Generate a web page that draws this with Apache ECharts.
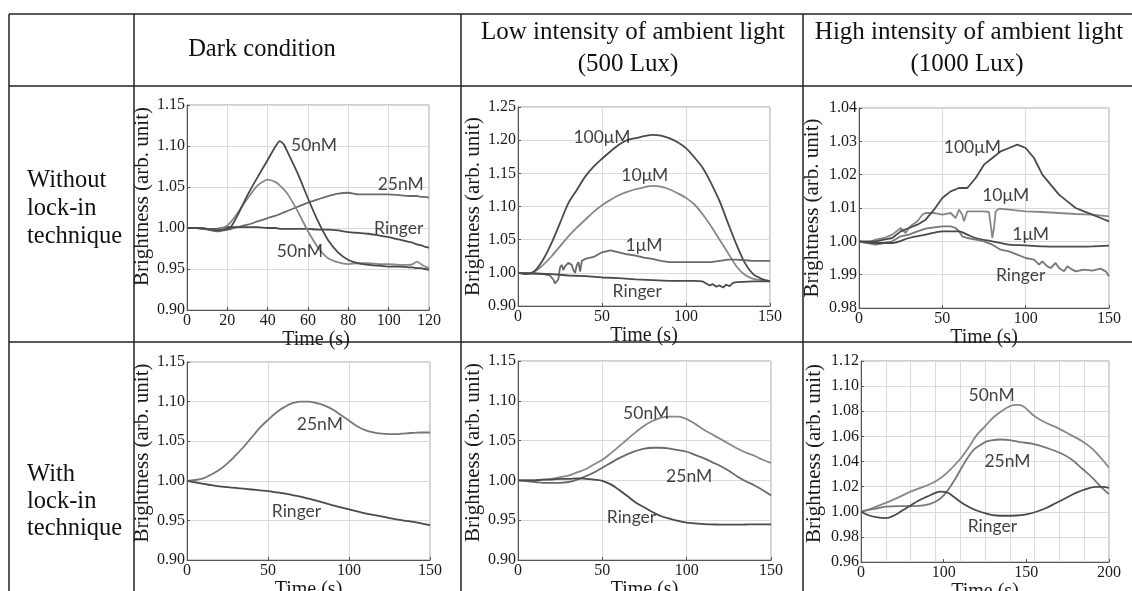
<!DOCTYPE html>
<html><head><meta charset="utf-8">
<script src="https://cdn.jsdelivr.net/npm/echarts@6/dist/echarts.min.js"></script>
<style>html,body{margin:0;padding:0;background:#fff}#c{width:1132px;height:591px}</style>
</head><body><div id="c"></div><script>
// ---------- DATA ----------
// Panel 1: dark condition, without lock-in
const p1Time = [0,5,10,15,20,22,25,30,35,40,44,46,48,50,55,60,65,70,75,80,85,90,95,100,105,110,112,114,116,118,120];
const p1Dark50 = [1.000,1.000,0.999,0.997,0.999,1.002,1.015,1.040,1.062,1.083,1.100,1.106,1.102,1.092,1.066,1.036,1.008,0.985,0.970,0.961,0.957,0.955,0.954,0.953,0.953,0.952,0.952,0.951,0.951,0.950,0.949];
const p1Light50 = [1.000,1.000,0.999,0.998,1.003,1.008,1.018,1.036,1.052,1.059,1.056,1.052,1.047,1.041,1.020,0.996,0.976,0.963,0.958,0.956,0.957,0.957,0.956,0.956,0.955,0.955,0.956,0.959,0.956,0.953,0.951];
const p1N25 = [1.000,1.000,0.998,0.996,0.998,0.999,1.001,1.004,1.008,1.012,1.015,1.017,1.019,1.021,1.026,1.031,1.035,1.039,1.042,1.043,1.041,1.041,1.041,1.041,1.040,1.039,1.039,1.039,1.038,1.038,1.037];
const p1Ringer = [1.000,1.000,0.999,0.999,1.001,1.001,1.001,1.001,1.001,1.000,1.000,0.999,0.999,0.999,0.999,0.999,0.998,0.998,0.997,0.995,0.994,0.993,0.991,0.989,0.986,0.983,0.982,0.980,0.979,0.977,0.976];
const p1LabelText = ['50nM','25nM','Ringer','50nM'];
const p1LabelX = [63,106,105,56];
const p1LabelY = [1.101,1.053,1.000,0.971];
const p1XTicks = [0,120,20];
const p1YTicks = [0.90,1.15,0.05];

// Panel 2: 500 Lux, without lock-in
const p2Time = [0,5,10,15,20,25,30,35,40,45,50,55,60,65,70,75,80,85,90,95,100,105,110,115,120,125,130,135,140,145,150];
const p2U100 = [1.000,0.998,1.003,1.020,1.045,1.075,1.105,1.125,1.145,1.160,1.172,1.183,1.193,1.200,1.203,1.206,1.208,1.207,1.203,1.197,1.188,1.174,1.158,1.135,1.108,1.075,1.043,1.015,0.998,0.991,0.987];
const p2U10 = [1.000,0.999,1.002,1.012,1.025,1.040,1.055,1.068,1.080,1.092,1.102,1.110,1.117,1.122,1.126,1.129,1.131,1.130,1.126,1.120,1.113,1.103,1.088,1.070,1.050,1.030,1.010,0.997,0.991,0.989,0.988];
const p2Time1 = [0,5,10,15,19,21,22,23,24,25,26,27,28,29,30,31,32,33,34,35,36,37,38,40,45,50,55,60,65,70,75,80,85,90,95,100,105,110,115,120,125,130,135,140,145,150];
const p2U1 = [1.000,0.999,0.999,0.998,0.996,0.990,0.984,0.982,0.990,1.008,1.012,1.004,1.010,1.013,1.015,1.016,1.012,1.004,1.000,1.012,1.016,1.002,1.018,1.021,1.024,1.031,1.034,1.031,1.028,1.026,1.023,1.021,1.018,1.016,1.016,1.016,1.016,1.016,1.016,1.018,1.020,1.020,1.019,1.018,1.018,1.018];
const p2TimeR = [0,10,20,30,40,50,60,70,80,90,100,105,110,112,114,116,118,120,122,124,126,128,130,140,150];
const p2Ringer = [1.000,0.999,0.998,0.996,0.995,0.993,0.992,0.990,0.989,0.988,0.988,0.988,0.987,0.984,0.981,0.983,0.979,0.981,0.978,0.982,0.980,0.985,0.986,0.987,0.987];
const p2LabelText = ['100\u03bcM','10\u03bcM','1\u03bcM','Ringer'];
const p2LabelX = [50,75.5,75,71];
const p2LabelY = [1.204,1.147,1.042,0.972];
const p2XTicks = [0,150,50];
const p2YTicks = [0.95,1.25,0.05];
const p2YLabels = ['0.90','1.00','1.05','1.10','1.15','1.20','1.25'];

// Panel 3: 1000 Lux, without lock-in
const p3Time = [0,5,10,15,20,25,30,35,40,45,50,55,60,65,70,75,80,85,90,95,100,105,110,115,120,125,130,135,140,145,150];
const p3U100 = [1.000,1.000,1.000,1.0005,1.001,1.003,1.004,1.005,1.0065,1.0095,1.013,1.015,1.016,1.016,1.019,1.023,1.025,1.027,1.028,1.029,1.028,1.025,1.020,1.017,1.014,1.012,1.010,1.009,1.008,1.007,1.006];
const p3Time10 = [0,5,10,15,20,25,28,30,32,35,38,40,45,50,55,58,60,62,63,65,70,75,78,79,80,81,82,84,90,100,110,120,130,140,150];
const p3U10 = [1.000,0.9995,1.0005,1.001,1.002,1.004,1.0025,1.004,1.005,1.006,1.008,1.0085,1.0085,1.008,1.0085,1.007,1.0095,1.008,1.006,1.009,1.009,1.009,1.0088,1.005,1.001,1.004,1.009,1.0098,1.0095,1.009,1.0088,1.0085,1.0082,1.008,1.0075];
const p3Time1 = [0,10,20,30,40,50,60,65,70,80,90,100,110,120,130,140,150];
const p3U1 = [1.000,0.9995,0.9995,1.001,1.002,1.003,1.003,1.002,1.001,1.000,0.999,0.9988,0.9985,0.9984,0.9984,0.9985,0.9987];
const p3TimeR = [0,5,10,15,20,25,30,35,40,45,50,55,58,60,62,65,70,75,80,85,90,95,100,105,108,110,113,115,118,120,123,125,128,130,135,140,145,148,150];
const p3Ringer = [1.000,0.9995,0.999,0.9995,1.000,1.0015,1.002,1.003,1.0038,1.0042,1.0045,1.0045,1.004,1.003,1.0015,1.001,1.0005,1.000,0.999,0.9975,0.997,0.996,0.995,0.9945,0.993,0.994,0.9925,0.992,0.9935,0.992,0.991,0.9925,0.9915,0.991,0.9915,0.9912,0.9918,0.991,0.9895];
const p3LabelText = ['100\u03bcM','10\u03bcM','1\u03bcM','Ringer'];
const p3LabelX = [68,88,103,97];
const p3LabelY = [1.0282,1.0139,1.002,0.9898];
const p3XTicks = [0,150,50];
const p3YTicks = [0.98,1.04,0.01];
const p3YLabels = ['0.98','1.99','1.00','1.01','1.02','1.03','1.04'];

// Panel 4: dark condition, with lock-in
const p4Time = [0,5,10,15,20,25,30,35,40,45,50,55,60,65,70,75,80,85,90,95,100,105,110,115,120,125,130,135,140,145,150];
const p4N25 = [1.000,1.001,1.003,1.008,1.014,1.022,1.032,1.043,1.055,1.067,1.077,1.086,1.093,1.098,1.100,1.100,1.098,1.095,1.090,1.083,1.076,1.069,1.064,1.061,1.0595,1.059,1.059,1.060,1.0605,1.061,1.061];
const p4Ringer = [1.000,0.998,0.996,0.9945,0.993,0.992,0.991,0.990,0.989,0.988,0.987,0.9855,0.984,0.982,0.980,0.9775,0.975,0.972,0.969,0.9665,0.964,0.9615,0.959,0.957,0.955,0.953,0.951,0.9495,0.948,0.946,0.944];
const p4LabelText = ['25nM','Ringer'];
const p4LabelX = [82,67.6];
const p4LabelY = [1.071,0.962];
const p4XTicks = [0,150,50];
const p4YTicks = [0.90,1.15,0.05];

// Panel 5: 500 Lux, with lock-in
const p5Time = [0,5,10,15,20,25,30,35,40,45,50,55,60,65,70,75,80,85,90,95,100,105,110,115,120,125,130,135,140,145,150];
const p5N50 = [1.000,1.000,1.000,1.001,1.002,1.004,1.006,1.010,1.014,1.020,1.026,1.034,1.043,1.052,1.061,1.069,1.075,1.079,1.080,1.080,1.077,1.071,1.064,1.058,1.052,1.046,1.040,1.035,1.031,1.026,1.022];
const p5N25 = [1.000,0.999,0.998,0.997,0.997,0.997,0.998,1.001,1.005,1.010,1.016,1.022,1.028,1.033,1.037,1.040,1.041,1.041,1.040,1.038,1.036,1.032,1.028,1.023,1.018,1.012,1.005,0.999,0.994,0.988,0.981];
const p5Ringer = [1.000,1.000,1.000,1.001,1.001,1.002,1.002,1.0025,1.002,1.001,0.9995,0.995,0.988,0.980,0.972,0.966,0.960,0.955,0.952,0.949,0.947,0.946,0.945,0.9447,0.9445,0.9445,0.9445,0.9446,0.9447,0.9447,0.9447];
const p5LabelText = ['50nM','25nM','Ringer'];
const p5LabelX = [76,101.5,67.3];
const p5LabelY = [1.084,1.0054,0.954];
const p5XTicks = [0,150,50];
const p5YTicks = [0.90,1.15,0.05];

// Panel 6: 1000 Lux, with lock-in
const p6Time50 = [50,57,65,72,80,88,95,102,110,115,120,125,130,135,140,144,148,154,160,170,177,184,190,195,200];
const p6N50 = [1.000,1.003,1.007,1.011,1.016,1.020,1.024,1.031,1.042,1.051,1.061,1.068,1.075,1.080,1.084,1.085,1.084,1.077,1.072,1.066,1.061,1.056,1.050,1.043,1.035];
const p6Time25 = [50,57,65,72,80,88,95,100,106,110,114,118,122,126,130,134,140,146,154,162,170,177,184,190,195,200];
const p6N25 = [1.000,1.002,1.004,1.0045,1.0045,1.005,1.008,1.013,1.024,1.033,1.042,1.049,1.053,1.056,1.057,1.0575,1.057,1.0555,1.054,1.051,1.047,1.042,1.034,1.027,1.020,1.014];
const p6TimeR = [50,55,60,65,70,75,80,85,90,95,98,102,106,110,115,120,126,132,138,144,150,156,162,168,174,180,186,192,196,200];
const p6Ringer = [1.000,0.997,0.9955,0.995,0.997,1.001,1.005,1.009,1.012,1.015,1.016,1.0155,1.012,1.008,1.004,1.001,0.9985,0.997,0.9968,0.997,0.998,1.000,1.003,1.007,1.011,1.015,1.018,1.0198,1.0198,1.019];
const p6LabelText = ['50nM','25nM','Ringer'];
const p6LabelX = [129,138.6,129.5];
const p6LabelY = [1.093,1.040,0.988];
const p6XTicks = [50,200,50];
const p6XLabels = ['0','100','150','200'];
const p6XGrid = [0,150,15];
const p6YTicks = [0.96,1.12,0.02];

// Table texts
const columnHeaders = [['Dark condition'], ['Low intensity of ambient light','(500 Lux)'], ['High intensity of ambient light','(1000 Lux)']];
const rowHeaders = [['Without','lock-in','technique'], ['With','lock-in','technique']];
const yName = 'Brightness (arb. unit)';
const xName = 'Time (s)';

// ---------- STYLE / LAYOUT ----------
const SERIF = '"Liberation Serif", "Times New Roman", serif';
const SANS = 'Lato, "Open Sans", "DejaVu Sans", sans-serif';
const DARK = '#4a4a4a', MID = '#6a6a6a', LIGHT = '#888888';

const grids = [
  {left:187, top:105, width:242, height:205},
  {left:518, top:107, width:252, height:199},
  {left:859, top:108, width:250, height:200},
  {left:187, top:362, width:243, height:198},
  {left:518, top:361, width:253, height:199},
  {left:861, top:361, width:248, height:201}
].map(g => Object.assign({show:true, borderColor:'#a0a0a0', borderWidth:1, backgroundColor:'#fff', containLabel:false, outerBoundsMode:'none'}, g));

function makeX(gi, ticks, nameGap, labels, showSplit, namePad) {
  const [min, max, interval] = ticks;
  return {
    type:'value', gridIndex:gi, min, max, interval, position:'bottom',
    name:xName, nameLocation:'middle', nameGap,
    nameTextStyle:{fontFamily:SERIF, fontSize:20, color:'#1a1a1a', padding: namePad || 0},
    axisLine:{show:true, onZero:false, lineStyle:{color:'#555', width:1}},
    axisTick:{show:true, inside:true, length:3, lineStyle:{color:'#555'}},
    axisLabel:{fontFamily:SERIF, fontSize:16, color:'#1a1a1a', margin:3, showMinLabel:true, showMaxLabel:true,
      formatter: labels ? (v => labels[Math.round((v - min) / interval)] || '') : (v => String(Math.round(v)))},
    splitLine:{show: showSplit !== false, lineStyle:{color:'#dadada', width:1}}
  };
}
function makeY(gi, ticks, nameGap, labels, namePad) {
  const [min, max, interval] = ticks;
  return {
    type:'value', gridIndex:gi, min, max, interval,
    name:yName, nameLocation:'middle', nameGap, nameRotate:90,
    nameTextStyle:{fontFamily:SERIF, fontSize:21, color:'#1a1a1a', padding: namePad || 0},
    axisLine:{show:true, onZero:false, lineStyle:{color:'#555', width:1}},
    axisTick:{show:true, inside:true, length:3, lineStyle:{color:'#555'}},
    axisLabel:{fontFamily:SERIF, fontSize:16, color:'#1a1a1a', margin:2, showMinLabel:true, showMaxLabel:true,
      formatter: labels ? (v => labels[Math.round((v - min) / interval)] || '') : (v => v.toFixed(2))},
    splitLine:{show:true, lineStyle:{color:'#dadada', width:1}}
  };
}

const xAxes = [
  makeX(0, p1XTicks, 12, null, true, [0,0,0,16]),
  makeX(1, p2XTicks, 9),
  makeX(2, p3XTicks, 11),
  makeX(3, p4XTicks, 15),
  makeX(4, p5XTicks, 15),
  makeX(5, p6XTicks, 12, p6XLabels, false),
  {type:'value', gridIndex:5, min:p6XGrid[0], max:p6XGrid[1], interval:p6XGrid[2], position:'top',
   axisLine:{show:false}, axisTick:{show:false}, axisLabel:{show:false},
   splitLine:{show:true, lineStyle:{color:'#dadada', width:1}}}
];
const yAxes = [
  makeY(0, p1YTicks, 31, null, [0,0,0,22]),
  makeY(1, p2YTicks, 33, p2YLabels),
  makeY(2, p3YTicks, 36, p3YLabels),
  makeY(3, p4YTicks, 31, null, [0,0,0,16]),
  makeY(4, p5YTicks, 33, null, [0,0,0,16]),
  makeY(5, p6YTicks, 36, null, [0,0,0,16])
];

const series = [];
function addLine(p, t, v, color, smooth) {
  series.push({type:'line', xAxisIndex:p, yAxisIndex:p, data:t.map((x,i)=>[x, v[i]]),
    symbol:'none', showSymbol:false, smooth:smooth, lineStyle:{color:color, width:1.8},
    silent:true, animation:false, z:3});
}
function addLabels(p, texts, xs, ys) {
  series.push({type:'scatter', xAxisIndex:p, yAxisIndex:p,
    data:texts.map((s,i)=>({name:s, value:[xs[i], ys[i]]})),
    symbolSize:1, itemStyle:{color:'rgba(0,0,0,0)'},
    label:{show:true, position:'inside', formatter:'{b}', fontFamily:SANS, fontSize:17.5, color:'#111'},
    silent:true, animation:false, z:5});
}

addLine(0, p1Time, p1N25, MID, 0.2);
addLine(0, p1Time, p1Ringer, DARK, 0.2);
addLine(0, p1Time, p1Light50, LIGHT, 0.2);
addLine(0, p1Time, p1Dark50, DARK, 0.2);
addLabels(0, p1LabelText, p1LabelX, p1LabelY);

addLine(1, p2Time, p2U10, LIGHT, 0.3);
addLine(1, p2Time, p2U100, DARK, 0.3);
addLine(1, p2Time1, p2U1, MID, false);
addLine(1, p2TimeR, p2Ringer, DARK, false);
addLabels(1, p2LabelText, p2LabelX, p2LabelY);

addLine(2, p3TimeR, p3Ringer, '#777', false);
addLine(2, p3Time10, p3U10, LIGHT, false);
addLine(2, p3Time1, p3U1, DARK, 0.3);
addLine(2, p3Time, p3U100, DARK, false);
addLabels(2, p3LabelText, p3LabelX, p3LabelY);

addLine(3, p4Time, p4N25, '#777', 0.4);
addLine(3, p4Time, p4Ringer, DARK, 0.4);
addLabels(3, p4LabelText, p4LabelX, p4LabelY);

addLine(4, p5Time, p5N50, LIGHT, 0.4);
addLine(4, p5Time, p5N25, MID, 0.4);
addLine(4, p5Time, p5Ringer, DARK, 0.4);
addLabels(4, p5LabelText, p5LabelX, p5LabelY);

addLine(5, p6Time50, p6N50, LIGHT, 0.4);
addLine(5, p6Time25, p6N25, '#777', 0.4);
addLine(5, p6TimeR, p6Ringer, DARK, 0.4);
addLabels(5, p6LabelText, p6LabelX, p6LabelY);

// ---------- TABLE GRAPHICS ----------
const STROKE = '#222';
const tableLines = [
  [9,14,1132,14],[9,86,1132,86],[9,342,1132,342],
  [9,14,9,591],[134,14,134,591],[461,14,461,591],[803,14,803,591]
];
const graphic = tableLines.map(l => ({type:'line', silent:true, z:10,
  shape:{x1:l[0], y1:l[1], x2:l[2], y2:l[3]}, style:{stroke:STROKE, lineWidth:1.5}}));
function txt(s, x, y, align, size) {
  return {type:'text', silent:true, z:10, x:x, y:y,
    style:{text:s, fill:'#111', fontFamily:SERIF, fontSize:size, align:align, verticalAlign:'middle',
      textAlign:align, textVerticalAlign:'middle'}};
}
graphic.push(txt(columnHeaders[0][0], 262, 50, 'center', 24.5));
graphic.push(txt(columnHeaders[1][0], 633, 32, 'center', 25));
graphic.push(txt(columnHeaders[1][1], 628, 64, 'center', 25));
graphic.push(txt(columnHeaders[2][0], 969, 32, 'center', 25));
graphic.push(txt(columnHeaders[2][1], 967, 64, 'center', 25));
[181,209,237].forEach((y,i)=>graphic.push(txt(rowHeaders[0][i], 27, y, 'left', 24.5)));
[475,502,529].forEach((y,i)=>graphic.push(txt(rowHeaders[1][i], 27, y, 'left', 24.5)));

const chart = echarts.init(document.getElementById('c'), null, {renderer:'canvas'});
chart.setOption({
  animation:false,
  backgroundColor:'#fff',
  textStyle:{fontFamily:SERIF},
  grid:grids, xAxis:xAxes, yAxis:yAxes, series:series, graphic:graphic
});
</script></body></html>
